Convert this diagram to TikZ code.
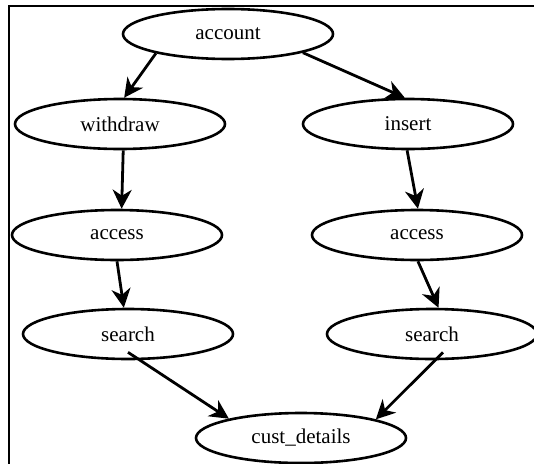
\documentclass[tikz,border=0pt]{standalone}
\usepackage{fontspec}
\setmainfont{Liberation Serif}
\usetikzlibrary{shapes.geometric,arrows.meta}
\begin{document}
\begin{tikzpicture}[x=1pt,y=-1pt,
  state/.style={ellipse,draw,line width=2.6pt,minimum width=210pt,minimum height=50pt,
    inner sep=0pt,font=\fontsize{21}{25}\selectfont},
  flow/.style={line width=2.8pt,-{Stealth[length=19pt,width=19pt,inset=6pt]}}]
\useasboundingbox (0,0) rectangle (534,463);
\clip (0,0) rectangle (534,463);
% frame
\draw[line width=2.2pt] (9,475) -- (9,6) -- (545,6);
% states
\node[state] (account) at (228,34) {account};
\node[state] (withdraw) at (120,124) {withdraw};
\node[state] (insert) at (408,124) {insert};
\node[state] (accessL) at (117,235) {access};
\node[state] (accessR) at (417,235) {access};
\node[state] (searchL) at (128,334) {search};
\node[state] (searchR) at (432,334) {search};
\node[state] (cust) at (301,438) {cust\_details};
% transitions
\draw[flow] (account.195) -- (withdraw.81);
\draw[flow] (account.346) -- (insert.97);
\draw[flow] (withdraw.277) -- (accessL.80);
\draw[flow] (insert.268) -- (accessR.88);
\draw[flow] (accessL.270) -- (searchL.99);
\draw[flow] (accessR.272) -- (searchR.76);
\draw[flow] ([yshift=8pt]searchL.south) -- (cust.165);
\draw[flow] ([shift={(11pt,8pt)}]searchR.south) -- (cust.14);
\end{tikzpicture}
\end{document}
